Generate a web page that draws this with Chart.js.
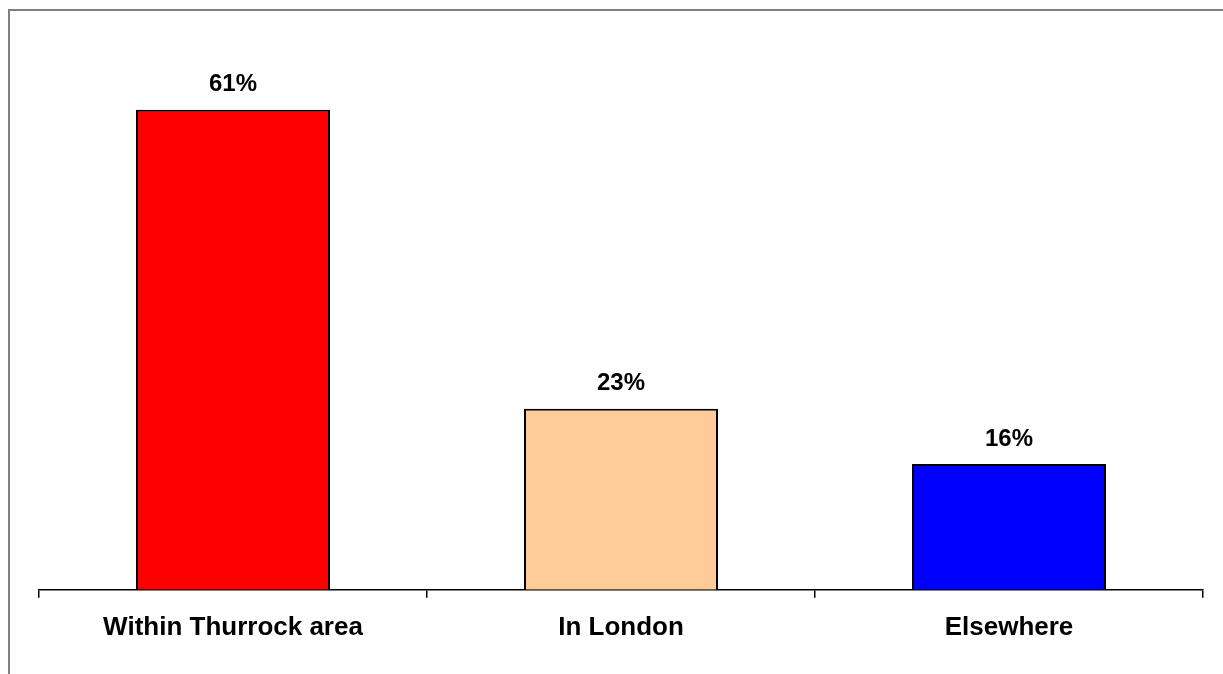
<!DOCTYPE html>
<html>
<head>
<meta charset="utf-8">
<script src="https://cdn.jsdelivr.net/npm/chart.js@4/dist/chart.umd.min.js"></script>
<style>
  html, body { margin: 0; padding: 0; background: #fff; overflow: hidden; }
  #wrap { position: relative; width: 1223px; height: 674px; }
  #frame {
    position: absolute; left: 8px; top: 9px; width: 1300px; height: 800px;
    border-left: 2px solid #808080; border-top: 2px solid #808080;
  }
  canvas { position: absolute; left: 0; top: 0; }
</style>
</head>
<body>
<div id="wrap">
  <div id="frame"></div>
  <canvas id="myBarChart" width="1223" height="674"></canvas>
</div>
<script>
// Data
var categories = ["Within Thurrock area", "In London", "Elsewhere"];
var values = [61, 23, 16];
var barColors = ["#ff0000", "#ffcc99", "#0000ff"];

Chart.defaults.font.family = "'Liberation Sans', Arial, sans-serif";
Chart.defaults.color = "#000000";

// draws the % label above each bar
var valueLabels = {
  id: "valueLabels",
  afterDatasetsDraw: function (chart) {
    var ctx = chart.ctx;
    var meta = chart.getDatasetMeta(0);
    ctx.save();
    ctx.font = "bold 24px 'Liberation Sans', Arial, sans-serif";
    ctx.fillStyle = "#000";
    ctx.textAlign = "center";
    ctx.textBaseline = "middle";
    meta.data.forEach(function (bar, i) {
      ctx.fillText(values[i] + "%", bar.x, bar.y - 25);
    });
    ctx.restore();
  },
};

var ctx = document.getElementById("myBarChart");
var myBarChart = new Chart(ctx, {
  type: "bar",
  data: {
    labels: categories,
    datasets: [
      {
        data: values,
        backgroundColor: barColors,
        borderColor: "#000000",
        borderWidth: 2,
        borderSkipped: "bottom",
        barPercentage: 0.5,
        categoryPercentage: 1.0,
      },
    ],
  },
  options: {
    responsive: false,
    animation: false,
    layout: {
      padding: { left: 39, right: 20, top: 39, bottom: 17 },
    },
    plugins: {
      legend: { display: false },
      tooltip: { enabled: false },
    },
    scales: {
      x: {
        offset: true,
        grid: {
          display: true,
          offset: true,
          drawOnChartArea: false,
          drawTicks: true,
          tickLength: 8,
          color: "#000000",
          lineWidth: 1.5,
        },
        border: { display: true, color: "#000000", width: 1.5 },
        ticks: {
          padding: 14,
          font: { size: 26, weight: "bold" },
          color: "#000000",
          maxRotation: 0,
        },
      },
      y: {
        display: false,
        min: 0,
        max: 70,
      },
    },
  },
  plugins: [valueLabels],
});
</script>
</body>
</html>
